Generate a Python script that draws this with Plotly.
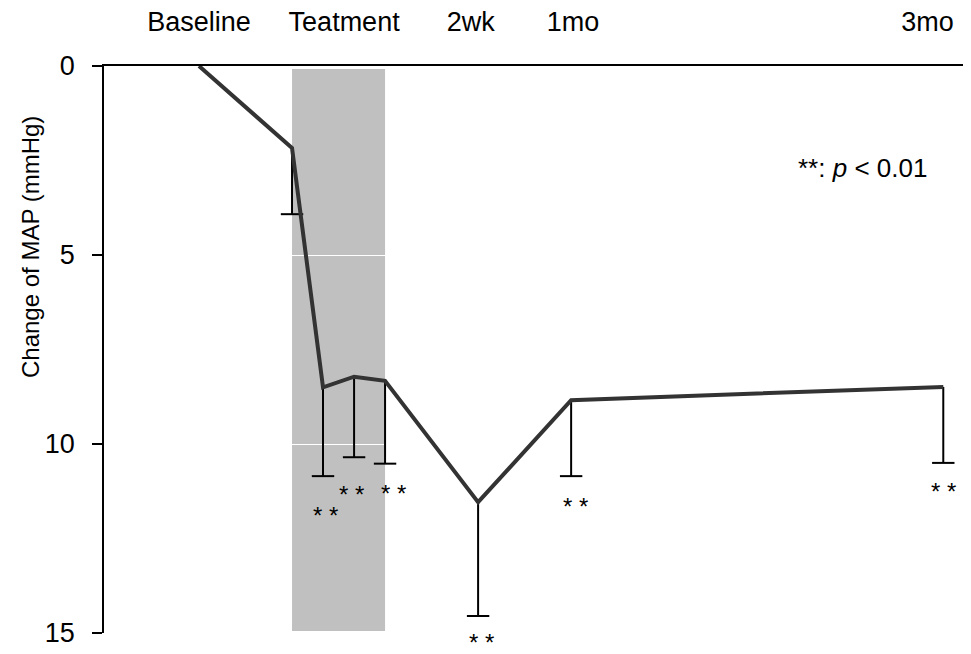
import plotly.graph_objects as go

# ---- data ----
x_pos = [0, 1, 1.333, 1.667, 2, 3, 4, 8]
map_change = [0, 2.17, 8.50, 8.22, 8.33, 11.54, 8.84, 8.49]
map_err = [None, 1.75, 2.35, 2.13, 2.19, 3.01, 2.01, 2.01]
sig_stars = [None, None, "* *", "* *", "* *", "* *", "* *", "* *"]

tick_labels = ["Baseline", "Teatment", "2wk", "1mo", "3mo"]
tick_pos = [0, 1.56, 2.92, 4.02, 7.83]
treat_start, treat_end = 1, 2

# star label offsets (px)
star_dx = [0, 0, 2, -3, 8, 3, 4, 0]
star_dy = [0, 0, -39, -37, -30, -27, -30, -29]

FONT = "Arial, Liberation Sans, sans-serif"

# page body has an 8px margin; compensate so the figure lines up with the window
OFF = 8
W, H = 971 - OFF, 654 - OFF
L, T, B = 104 - OFF, 66 - OFF, 21
PW, PH = W - L, H - T - B

def px_to_paper(px, py):
    return (px - OFF - L) / PW, (H - B - (py - OFF)) / PH

fig = go.Figure()

fig.add_shape(type="rect", xref="x", yref="y", x0=treat_start, x1=treat_end,
              y0=0.08, y1=14.95, fillcolor="#c0c0c0", line_width=0, layer="below")

# error bars (bar only) + caps
ex = [x for x, e in zip(x_pos, map_err) if e is not None]
ey = [y for y, e in zip(map_change, map_err) if e is not None]
ee = [e for e in map_err if e is not None]
fig.add_trace(go.Scatter(
    x=ex, y=ey, mode="markers", marker=dict(size=1, color="rgba(0,0,0,0)"),
    error_y=dict(type="data", array=ee, arrayminus=[0] * len(ee), symmetric=False,
                 color="black", thickness=2, width=0),
    showlegend=False, hoverinfo="skip"))
fig.add_trace(go.Scatter(
    x=ex, y=[y + e for y, e in zip(ey, ee)], mode="markers",
    marker=dict(symbol="line-ew", size=16, line=dict(width=2, color="black"), color="black"),
    showlegend=False, hoverinfo="skip"))

fig.add_trace(go.Scatter(x=x_pos, y=map_change, mode="lines",
                         line=dict(color="#333333", width=4), showlegend=False))

for x, y, e, s, dx, dy in zip(x_pos, map_change, map_err, sig_stars, star_dx, star_dy):
    if s:
        fig.add_annotation(x=x, y=y + e, text=s, showarrow=False, xshift=dx, yshift=dy,
                           xanchor="center", yanchor="middle",
                           font=dict(family=FONT, size=24, color="black"))

px_, py_ = px_to_paper(862, 168)
fig.add_annotation(xref="paper", yref="paper", x=px_, y=py_, xanchor="center", yanchor="middle",
                   text="**: <i>p</i> &lt; 0.01", showarrow=False,
                   font=dict(family=FONT, size=26, color="black"))

tx, ty = px_to_paper(30, 247)
fig.add_annotation(xref="paper", yref="paper", x=tx, y=ty, xanchor="center", yanchor="middle",
                   text="Change of MAP (mmHg)", textangle=-90, showarrow=False,
                   font=dict(family=FONT, size=24, color="black"))

fig.update_layout(
    width=W, height=H,
    margin=dict(l=L, r=0, t=T, b=B),
    paper_bgcolor="white", plot_bgcolor="white",
    font=dict(family=FONT, color="black"),
    xaxis=dict(side="top", range=[-1.021, 8.298], showline=True, linecolor="black",
               linewidth=2, showgrid=False, zeroline=False,
               tickvals=tick_pos, ticktext=tick_labels, ticks="outside", ticklen=22,
               tickcolor="rgba(0,0,0,0)", tickfont=dict(size=27)),
    yaxis=dict(range=[15, 0], tickvals=[0, 5, 10, 15], ticks="outside", ticklen=10,
               tickwidth=1.5, tickcolor="black", showline=True, linecolor="black",
               linewidth=1.5, showgrid=True, gridcolor="white", gridwidth=1,
               zeroline=False, tickfont=dict(size=27), ticklabelstandoff=12),
)

fig.write_html("out.html")
